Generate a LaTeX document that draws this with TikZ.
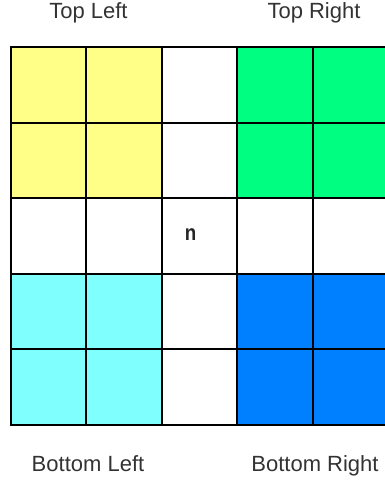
\documentclass[tikz,border=0pt]{standalone}
\usepackage{fontspec}
\setmainfont{Liberation Sans}
\usepackage{tikz}
\usetikzlibrary{positioning}

\definecolor{tlcol}{HTML}{FFFF88}
\definecolor{trcol}{HTML}{00FF80}
\definecolor{blcol}{HTML}{80FFFF}
\definecolor{brcol}{HTML}{007FFF}

\begin{document}
\begin{tikzpicture}[x=1pt, y=-1pt,
  cell/.style={draw=black, line width=2pt},
  label/.style={font=\fontsize{22}{26}\selectfont, text=black!80, inner sep=0pt, anchor=base}]
  \useasboundingbox (0,0) rectangle (385,483);
  \clip (0,0) rectangle (385,483);
  \def\cs{75.6}
  % 5x5 grid, quadrants filled
  \foreach \r in {0,...,4}{
    \foreach \c in {0,...,4}{
      \def\fc{white}
      \ifnum\r<2 \ifnum\c<2 \def\fc{tlcol}\fi \ifnum\c>2 \def\fc{trcol}\fi\fi
      \ifnum\r>2 \ifnum\c<2 \def\fc{blcol}\fi \ifnum\c>2 \def\fc{brcol}\fi\fi
      \draw[cell, fill=\fc] (10.5+\c*\cs, 47+\r*\cs) rectangle ++(\cs,\cs);
    }
  }
  % centre cell
  \node[font=\fontsize{22}{26}\bfseries, xscale=0.85, transform shape, text=black!85, inner sep=0pt] (n) at (190.5,235) {n};
  % quadrant names
  \node[label] (tl) at (88.5,18.5) {Top Left};
  \node[label] (tr) at (314,18.5) {Top Right};
  \node[label] (bl) at (88,471.5) {Bottom Left};
  \node[label] (br) at (315,471.5) {Bottom Right};
\end{tikzpicture}
\end{document}
